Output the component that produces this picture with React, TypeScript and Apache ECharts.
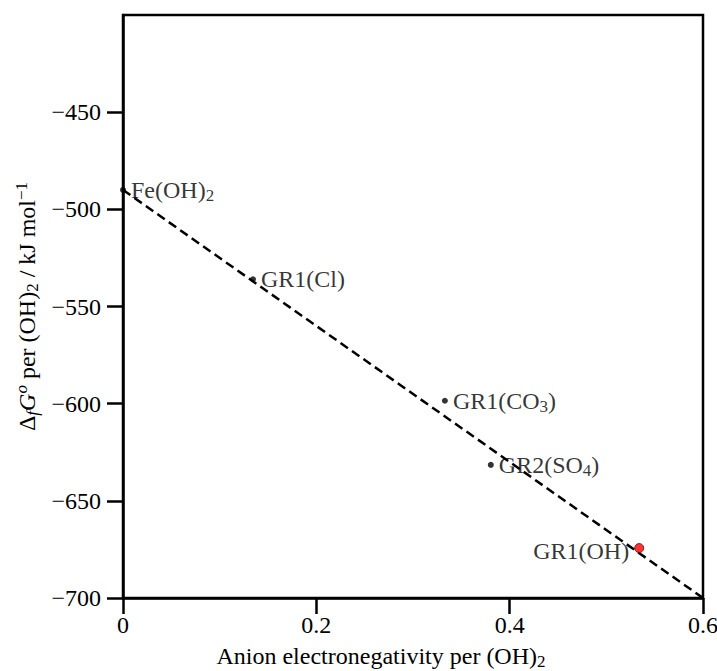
import React, { useEffect, useRef } from 'react';
import * as echarts from 'echarts';

const pointX = [0, 0.1345, 0.333, 0.3805, 0.534];
const pointY = [-490, -536, -598.5, -631.5, -674.3];
const pointLabels = ['Fe(OH){s|2}', 'GR1(Cl)', 'GR1(CO{s|3})', 'GR2(SO{s|4})', 'GR1(OH)'];
const pointColors = ['#000000', '#000000', '#000000', '#000000', '#ff0000'];
const fitX = [0, 0.6];
const fitY = [-490, -700];
const xTicks = [0, 0.2, 0.4, 0.6];
const yTicks = [-700, -650, -600, -550, -500, -450];
const xTitle = 'Anion electronegativity per (OH){s|2}';
const yTitle = '{n|Δ}{si|f}{i|G}{pi|o}{n| per (OH)}{s|2}{n| / kJ mol}{p|−1}';

const FONT = '"Liberation Serif", "DejaVu Serif", serif';
const FS = 24;

function richStyles(size: number) {
  const small = Math.round(size * 0.7);
  return {
    n: { fontSize: size, fontFamily: FONT, color: '#000', lineHeight: 28 },
    i: { fontSize: size, fontFamily: FONT, color: '#000', fontStyle: 'italic', lineHeight: 28 },
    s: { fontSize: small, fontFamily: FONT, color: '#000', lineHeight: 16, verticalAlign: 'bottom' },
    si: { fontSize: small, fontFamily: FONT, color: '#000', fontStyle: 'italic', lineHeight: 16, verticalAlign: 'bottom' },
    p: { fontSize: small, fontFamily: FONT, color: '#000', lineHeight: 16, verticalAlign: 'top' },
    pi: { fontSize: small, fontFamily: FONT, color: '#000', fontStyle: 'italic', lineHeight: 16, verticalAlign: 'top' },
  };
}

export default function App() {
  const ref = useRef<HTMLDivElement>(null);
  useEffect(() => {
    if (!ref.current) return;
    const chart = echarts.init(ref.current, null, { renderer: 'svg' });
    const lineStyle = { color: '#000', width: 2.5 };
    const option: any = {
      animation: false,
      backgroundColor: '#fff',
      grid: { left: 123, right: 14, top: 15, bottom: 73, containLabel: false, outerBoundsMode: 'none' },
      xAxis: {
        type: 'value',
        min: 0,
        max: 0.6,
        interval: 0.2,
        name: xTitle,
        nameLocation: 'middle',
        nameGap: 40,
        nameTextStyle: {
          fontFamily: FONT,
          fontSize: FS,
          color: '#000',
          lineHeight: 28,
          padding: [0, 64, 0, 0],
          rich: richStyles(FS),
        },
        axisLine: { show: true, onZero: false, lineStyle },
        axisTick: { show: true, inside: false, length: 16, lineStyle, customValues: xTicks },
        axisLabel: {
          margin: 15,
          fontFamily: FONT,
          fontSize: FS,
          color: '#000',
          customValues: xTicks,
          formatter: (v: number) => (v === 0 ? '0' : v.toFixed(1)),
        },
        splitLine: { show: false },
      },
      yAxis: {
        type: 'value',
        min: -700,
        max: -400,
        interval: 50,
        name: yTitle,
        nameLocation: 'middle',
        nameRotate: 90,
        nameGap: 75,
        nameTextStyle: { fontFamily: FONT, fontSize: FS, color: '#000', lineHeight: 28, rich: richStyles(FS) },
        axisLine: { show: true, onZero: false, lineStyle },
        axisTick: { show: true, inside: false, length: 16, lineStyle, customValues: yTicks },
        axisLabel: {
          margin: 22,
          fontFamily: FONT,
          fontSize: FS,
          color: '#000',
          customValues: yTicks,
          formatter: (v: number) => String(v).replace('-', '\u2212'),
        },
        splitLine: { show: false },
      },
      series: [
        {
          type: 'line',
          data: fitX.map((x, i) => [x, fitY[i]]),
          symbol: 'none',
          lineStyle: { color: '#000', width: 2.5, type: [9, 5] },
          z: 3,
        },
        {
          type: 'scatter',
          z: 4,
          data: pointX.map((x, i) => ({
            value: [x, pointY[i]],
            symbolSize: i === 4 ? 9 : 6,
            itemStyle: {
              color: pointColors[i],
              borderColor: i === 4 ? '#600' : '#000',
              borderWidth: i === 4 ? 1 : 0,
            },
            label: {
              position: i === 4 ? 'left' : 'right',
              offset: i === 4 ? [0, 3] : [0, 0],
            },
          })),
          label: {
            show: true,
            distance: 5,
            fontFamily: FONT,
            fontSize: FS,
            color: '#000',
            lineHeight: 28,
            rich: richStyles(FS),
            formatter: (p: any) => pointLabels[p.dataIndex],
          },
        },
        {
          type: 'line',
          data: [],
          markArea: {
            silent: true,
            itemStyle: { color: 'transparent', borderColor: '#000', borderWidth: 2.5 },
            data: [[{ xAxis: 0, yAxis: -700 }, { xAxis: 0.6, yAxis: -400 }]],
          },
        },
      ],
    };
    chart.setOption(option);
    return () => chart.dispose();
  }, []);
  return (
    <div
      ref={ref}
      style={{ position: 'fixed', left: 0, top: 0, width: 717, height: 671, background: '#fff' }}
    />
  );
}
